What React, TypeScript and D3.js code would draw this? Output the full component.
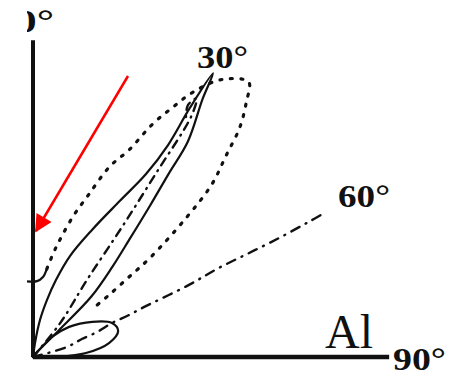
import React from 'react';
import * as d3 from 'd3';

// polar data: [angle in degrees from vertical (clockwise), relative radius]
const solidLobe: [number, number][] = [
  [0, 0], [8.1, 0.042], [10.7, 0.112], [13.8, 0.175], [16.6, 0.239], [20.1, 0.32],
  [24.9, 0.417], [29.1, 0.532], [31.7, 0.64], [32.5, 0.748], [32.2, 0.876], [32.4, 1.0],
  [33.3, 0.92], [35.7, 0.79], [36.5, 0.68], [37.7, 0.57], [39.4, 0.45], [41.3, 0.36],
  [44.0, 0.25], [44.0, 0.11], [40, 0.02], [0, 0],
];
const dashDotInner: [number, number][] = [
  [0, 0], [38.7, 0.13], [35.0, 0.28], [34.4, 0.47], [33.8, 0.66], [33.3, 0.86],
  [32.3, 0.91], [31.6, 0.88], [32.6, 0.845],
];
const dottedLobe: [number, number][] = [
  [8.9, 0.265], [11.3, 0.32], [13.4, 0.37], [16.1, 0.44], [18.9, 0.51], [21.9, 0.61],
  [24.9, 0.68], [27.2, 0.78], [29.2, 0.85], [31.1, 0.92], [34.3, 1.0], [38.1, 1.04],
  [39.9, 0.99], [42.0, 0.92], [43.8, 0.83], [46.0, 0.74], [47.7, 0.62], [49.7, 0.46],
  [50.2, 0.37], [50.8, 0.29], [51, 0.23],
];
const hook: [number, number][] = [[-4.5, 0.226], [3, 0.226], [7.1, 0.24], [8.9, 0.265]];
const smallLobe: [number, number][] = [
  [0, 0], [43.5, 0.082], [50.2, 0.14], [59.3, 0.205], [66.7, 0.256], [73, 0.265],
  [79.6, 0.23], [85.7, 0.158], [89.5, 0.077], [0, 0],
];
const dashDot60: [number, number][] = [
  [0, 0], [73.6, 0.104], [69.8, 0.155], [68.7, 0.205], [66.7, 0.256], [66.4, 0.31],
  [65.8, 0.36], [65.2, 0.51], [64.4, 0.61], [64.3, 0.71], [64.2, 0.81], [63.9, 0.91], [63.7, 0.97],
];
const axisVertical: [number, number][] = [[0, 0], [0, 0.943]];
const axisHorizontal: [number, number][] = [[90, 0], [90, 1.06]];
const angleLabels = ['0°', '30°', '60°', '90°'];
const materialLabel = 'Al';

const W = 450;
const H = 377;
const OX = 33;
const OY = 357;

export default function App() {
  const rScale = d3.scaleLinear().domain([0, 1]).range([0, 336]);
  const curved = d3
    .lineRadial<[number, number]>()
    .angle((d) => (d[0] * Math.PI) / 180)
    .radius((d) => rScale(d[1]))
    .curve(d3.curveCatmullRom.alpha(0.5));
  const straight = d3
    .lineRadial<[number, number]>()
    .angle((d) => (d[0] * Math.PI) / 180)
    .radius((d) => rScale(d[1]));

  const ink = '#111';
  return (
    <svg
      width={W}
      height={H}
      style={{ position: 'absolute', left: 0, top: 0, background: '#fff' }}
      fontFamily="'Liberation Serif', 'Times New Roman', serif"
    >
      <defs>
        <clipPath id="clipLeft">
          <rect x={27} y={0} width={W} height={H} />
        </clipPath>
        <marker id="arrowHead" viewBox="0 0 10 10" refX="9" refY="5" markerWidth="8" markerHeight="7" orient="auto" markerUnits="strokeWidth">
          <path d="M0,0 L10,5 L0,10 z" fill="#f00" />
        </marker>
      </defs>
      <rect x={0} y={0} width={W} height={H} fill="#fff" />
      <g transform={`translate(${OX},${OY})`} fill="none" stroke={ink}>
        <path d={straight(axisVertical) || ''} strokeWidth={4} />
        <path d={straight(axisHorizontal) || ''} strokeWidth={4.5} />
        <path d={curved(smallLobe) || ''} strokeWidth={2.2} />
        <path d={curved(solidLobe) || ''} strokeWidth={2.2} />
        <path d={curved(hook) || ''} strokeWidth={2.2} />
        <path d={curved(dottedLobe) || ''} strokeWidth={3.2} strokeDasharray="2 8.5" strokeLinecap="round" />
        <path d={curved(dashDotInner) || ''} strokeWidth={2.4} strokeDasharray="8 6 1 6" strokeLinecap="round" />
        <path d={curved(dashDot60) || ''} strokeWidth={2.4} strokeDasharray="9 7 1 7" strokeLinecap="round" />
      </g>
      <line x1={128} y1={76} x2={36} y2={231} stroke="#f00" strokeWidth={2.5} markerEnd="url(#arrowHead)" />
      <g fontWeight="bold" fontSize={31} fill={ink}>
        <text x={15} y={32} clipPath="url(#clipLeft)" textLength={39} lengthAdjust="spacingAndGlyphs">{angleLabels[0]}</text>
        <text x={197} y={68} textLength={51} lengthAdjust="spacingAndGlyphs">{angleLabels[1]}</text>
        <text x={338} y={207} textLength={52} lengthAdjust="spacingAndGlyphs">{angleLabels[2]}</text>
        <text x={393} y={370} textLength={53} lengthAdjust="spacingAndGlyphs">{angleLabels[3]}</text>
      </g>
      <text x={325} y={348} fontSize={48} fill={ink}>{materialLabel}</text>
    </svg>
  );
}
